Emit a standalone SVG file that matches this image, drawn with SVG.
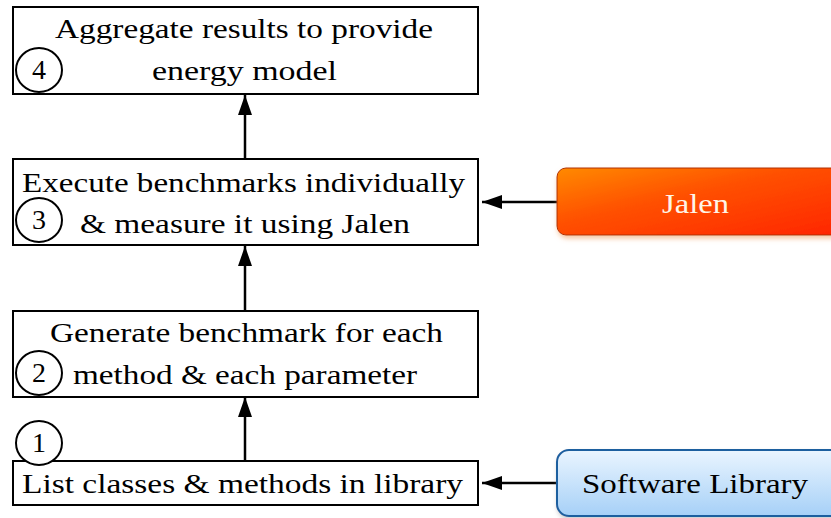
<svg xmlns="http://www.w3.org/2000/svg" width="831" height="518" viewBox="0 0 831 518">
<defs>
<linearGradient id="gOrange" x1="0" y1="0" x2="1" y2="1">
<stop offset="0" stop-color="#ff8a00"/>
<stop offset="0.4" stop-color="#ff5200"/>
<stop offset="1" stop-color="#ff2400"/>
</linearGradient>
<linearGradient id="gBlue" x1="0" y1="0" x2="0" y2="1">
<stop offset="0" stop-color="#eaf5ff"/>
<stop offset="1" stop-color="#a6d0f7"/>
</linearGradient>
<filter id="shadow" x="-10%" y="-20%" width="130%" height="150%">
<feGaussianBlur in="SourceAlpha" stdDeviation="2.5"/>
<feOffset dx="1" dy="3" result="b"/>
<feFlood flood-color="#f0a060" flood-opacity="0.6"/>
<feComposite in2="b" operator="in"/>
<feMerge><feMergeNode/><feMergeNode in="SourceGraphic"/></feMerge>
</filter>
<filter id="shadowB" x="-10%" y="-20%" width="130%" height="150%">
<feGaussianBlur in="SourceAlpha" stdDeviation="2"/>
<feOffset dx="1" dy="3" result="b"/>
<feFlood flood-color="#a0a0a0" flood-opacity="0.5"/>
<feComposite in2="b" operator="in"/>
<feMerge><feMergeNode/><feMergeNode in="SourceGraphic"/></feMerge>
</filter>
<marker id="arr" markerWidth="20" markerHeight="14" refX="20" refY="7" orient="auto" markerUnits="userSpaceOnUse">
<path d="M0,0 L20,7 L0,14 Z" fill="#000"/>
</marker>
</defs>
<style>
.box{fill:#fff;stroke:#000;stroke-width:2}
text{font-family:'Liberation Serif',Tinos,'Noto Serif',FreeSerif,'Nimbus Roman','Times New Roman','DejaVu Serif',serif;font-size:28px;fill:#000;text-anchor:middle}
.num{fill:#fff;stroke:#000;stroke-width:2}
.c{stroke:#000;stroke-width:2.5;fill:none;marker-end:url(#arr)}
</style>
<g id="connectors">
<line class="c" x1="245" y1="461" x2="245" y2="397"/>
<line class="c" x1="245" y1="311" x2="245" y2="246"/>
<line class="c" x1="245" y1="158" x2="245" y2="95"/>
<line class="c" x1="557" y1="202" x2="482" y2="202"/>
<line class="c" x1="557" y1="483" x2="482" y2="483"/>
</g>
<g id="step4">
<rect class="box" x="13" y="7" width="465" height="87"/>
<text x="244" y="38" textLength="378" lengthAdjust="spacingAndGlyphs">Aggregate results to provide</text>
<text x="244.5" y="80" textLength="185" lengthAdjust="spacingAndGlyphs">energy model</text>
<ellipse class="num" cx="39" cy="70" rx="23" ry="22"/>
<text x="39" y="79">4</text>
</g>
<g id="step3">
<rect class="box" x="13" y="159" width="465" height="86"/>
<text x="243.5" y="192" textLength="443" lengthAdjust="spacingAndGlyphs">Execute benchmarks individually</text>
<text x="245" y="233" textLength="330" lengthAdjust="spacingAndGlyphs">&amp; measure it using Jalen</text>
<ellipse class="num" cx="39" cy="220" rx="23" ry="22"/>
<text x="39" y="229">3</text>
</g>
<g id="step2">
<rect class="box" x="13" y="311" width="465" height="86"/>
<text x="246.5" y="342" textLength="393" lengthAdjust="spacingAndGlyphs">Generate benchmark for each</text>
<text x="245" y="384" textLength="344" lengthAdjust="spacingAndGlyphs">method &amp; each parameter</text>
<ellipse class="num" cx="39" cy="373" rx="23" ry="22"/>
<text x="39" y="382">2</text>
</g>
<g id="step1">
<rect class="box" x="13" y="461" width="465" height="44"/>
<text x="242.5" y="493" textLength="441" lengthAdjust="spacingAndGlyphs">List classes &amp; methods in library</text>
<ellipse class="num" cx="39" cy="443" rx="23" ry="22"/>
<text x="39" y="452">1</text>
</g>
<g id="jalen">
<rect x="557" y="168" width="290" height="67" rx="9" fill="url(#gOrange)" stroke="#b03000" stroke-width="1" filter="url(#shadow)"/>
<text x="695.5" y="213" textLength="67" lengthAdjust="spacingAndGlyphs" style="fill:#fff5e8">Jalen</text>
</g>
<g id="library">
<rect x="557" y="450" width="290" height="66" rx="12" fill="url(#gBlue)" stroke="#1f5f9f" stroke-width="2" filter="url(#shadowB)"/>
<text x="695" y="493" textLength="226" lengthAdjust="spacingAndGlyphs">Software Library</text>
</g>
</svg>
